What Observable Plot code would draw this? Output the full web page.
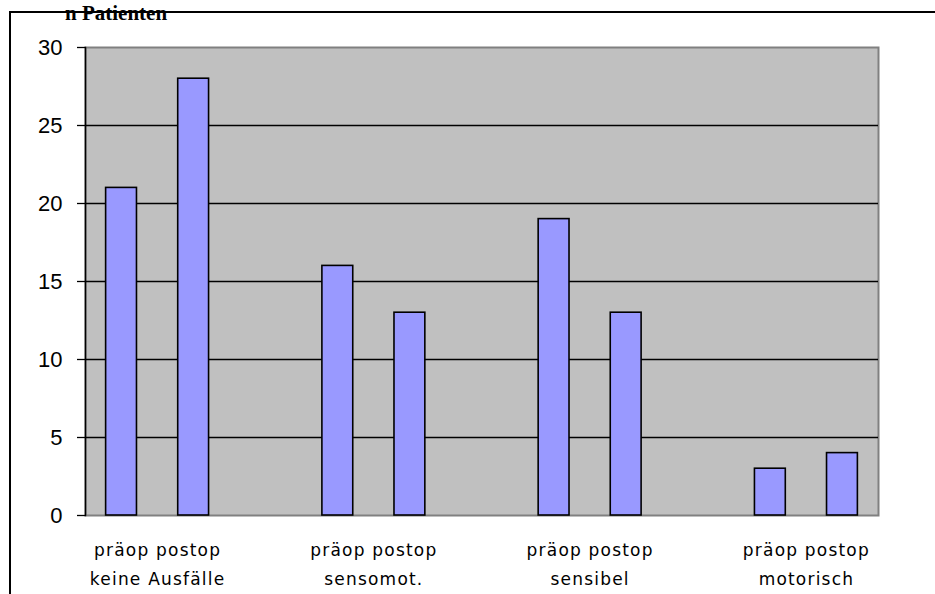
<!DOCTYPE html>
<html><head><meta charset="utf-8">
<script src="https://cdn.jsdelivr.net/npm/d3@7"></script>
<script src="https://cdn.jsdelivr.net/npm/@observablehq/plot@0.6"></script>
<style>
body{margin:0;background:#fff;}
#wrap{position:relative;width:935px;height:594px;overflow:hidden;}
#box{position:absolute;left:9px;top:11px;width:960px;height:620px;border-top:2px solid #000;border-left:2px solid #000;pointer-events:none;}
#title{position:absolute;left:65px;top:3px;font:bold 21px/21px "Liberation Serif","Times New Roman",serif;color:#000;white-space:nowrap;}
#chart{position:absolute;left:0;top:0;}
svg [aria-label="x-axis tick label"] text{letter-spacing:1.2px;}
</style>
</head><body>
<div id="wrap"><div id="chart"></div><div id="box"></div><div id="title">n Patienten</div></div>
<script>
const categories = ["keine Ausfälle", "sensomot.", "sensibel", "motorisch"];
const phases = ["präop", "postop"];
const praeop = [21, 16, 19, 3];
const postop = [28, 13, 13, 4];
const yTicks = [0, 5, 10, 15, 20, 25, 30];
const gridTicks = [5, 10, 15, 20, 25];

const slotsPerGroup = 3;
const halfBar = 0.214;
const bars = [];
categories.forEach((c, g) => {
  [praeop[g], postop[g]].forEach((v, p) => {
    const slot = g * slotsPerGroup + p;
    bars.push({cat: c, phase: phases[p], x1: slot - halfBar, x2: slot + halfBar, y: v});
  });
});
const groupCenters = categories.map((c, g) => g * slotsPerGroup + 0.5);
const nSlots = categories.length * slotsPerGroup - 1;

const chart = Plot.plot({
  width: 935,
  height: 594,
  marginLeft: 85,
  marginTop: 47,
  marginRight: 57,
  marginBottom: 79,
  style: {background: "transparent", color: "#000"},
  x: {domain: [-0.5, nSlots - 0.5], axis: null},
  y: {domain: [0, 30], axis: null},
  marks: [
    Plot.frame({fill: "#c0c0c0", stroke: "#808080", strokeWidth: 2}),
    Plot.ruleY(gridTicks, {stroke: "#000", strokeWidth: 1.3}),
    Plot.rect(bars, {x1: "x1", x2: "x2", y1: 0, y2: "y", fill: "#9999ff", stroke: "#000", strokeWidth: 1.6}),
    Plot.frame({anchor: "left", stroke: "#000", strokeWidth: 1.5}),
    Plot.axisY({ticks: yTicks, label: null, tickSize: 8, tickPadding: 15, fontSize: 22, fontFamily: "Liberation Sans, Arial, sans-serif", stroke: "#000", strokeWidth: 1.3, tickFormat: d => String(d)}),
    Plot.axisX({ticks: groupCenters, label: null, tickSize: 0, tickPadding: 20, fontSize: 17, lineHeight: 1.7, fontFamily: "DejaVu Sans, Verdana, sans-serif", tickFormat: (d, i) => phases.join(" ") + "\n" + categories[i]})
  ]
});
document.getElementById("chart").appendChild(chart);
</script>
</body></html>
